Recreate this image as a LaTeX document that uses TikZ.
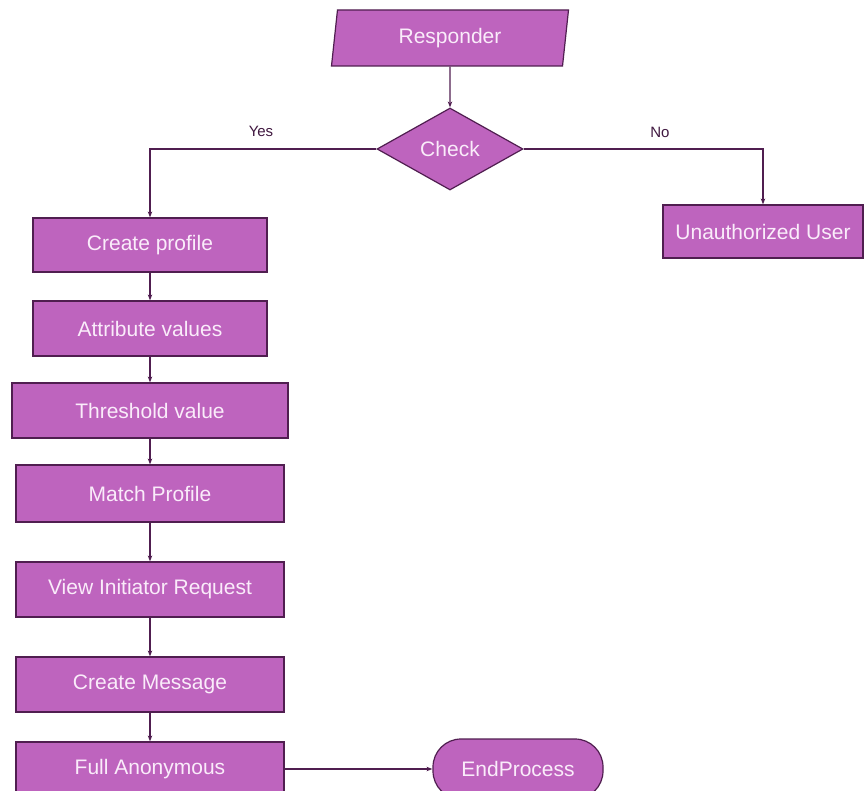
\documentclass[tikz,border=0pt]{standalone}
\usepackage{fontspec}
\setmainfont{Liberation Sans}
\usetikzlibrary{shapes.geometric,arrows.meta}
\definecolor{boxfill}{RGB}{190,100,190}
\definecolor{boxline}{RGB}{80,30,80}
\definecolor{boxtext}{RGB}{250,236,250}
\tikzset{
  base/.style={draw=boxline, fill=boxfill, line width=1.2pt, text=boxtext,
    font=\fontsize{21}{24}\selectfont, inner sep=0pt},
  procbox/.style={base, rectangle},
  iobox/.style={base, trapezium, trapezium left angle=73, trapezium right angle=107,
    trapezium stretches body},
  decbox/.style={base, diamond},
  endbox/.style={base, rectangle, rounded corners=28pt},
  conn/.style={draw=boxline, line width=1.2pt, -{Stealth[length=6pt,width=4.5pt]}},
  lbl/.style={font=\fontsize{15}{17}\selectfont, text=boxline!80!black}
}
\begin{document}
\begin{tikzpicture}[x=1pt,y=-1pt]
\useasboundingbox[fill=white] (0,0) rectangle (865,791);
\node[iobox, minimum width=237pt, minimum height=56pt] (resp) at (450,38) {Responder};
\node[decbox, minimum width=146pt, minimum height=82pt] (check) at (450,149) {Check};
\node[procbox, minimum width=234pt, minimum height=54pt] (cp) at (150,245) {Create profile};
\node[procbox, minimum width=234pt, minimum height=55pt] (av) at (150,328.5) {Attribute values};
\node[procbox, minimum width=276pt, minimum height=55pt] (tv) at (150,410.5) {Threshold value};
\node[procbox, minimum width=268pt, minimum height=57pt] (mp) at (150,493.5) {Match Profile};
\node[procbox, minimum width=268pt, minimum height=55pt] (vir) at (150,589.5) {View Initiator Request};
\node[procbox, minimum width=268pt, minimum height=55pt] (cm) at (150,684.5) {Create Message};
\node[procbox, minimum width=268pt, minimum height=54pt] (fa) at (150,769) {Full Anonymous};
\node[endbox, minimum width=170pt, minimum height=60pt] (end) at (518,769) {EndProcess};
\node[procbox, minimum width=200pt, minimum height=53pt] (uu) at (763,231.5) {Unauthorized User};
\node[lbl] (yes) at (261,131) {Yes};
\node[lbl] (no) at (660,132) {No};
\draw[conn] (resp.south) -- (check.north);
\draw[conn] (check.west) -| (cp.north);
\draw[conn] (check.east) -| (uu.north);
\draw[conn] (cp) -- (av);
\draw[conn] (av) -- (tv);
\draw[conn] (tv) -- (mp);
\draw[conn] (mp) -- (vir);
\draw[conn] (vir) -- (cm);
\draw[conn] (cm) -- (fa);
\draw[conn] (fa.east) -- (end.west);
\end{tikzpicture}
\end{document}
